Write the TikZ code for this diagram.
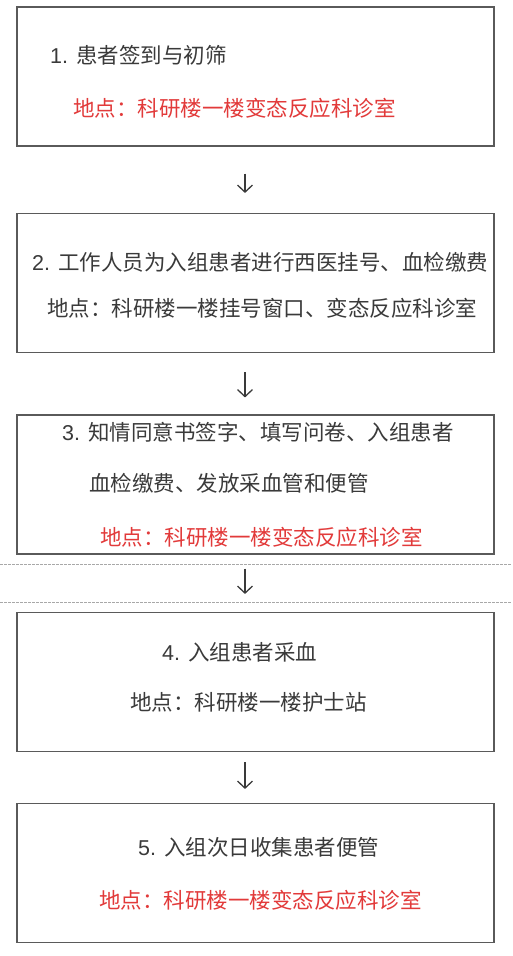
\documentclass[tikz,border=0pt]{standalone}
\usepackage{fontspec}
\setmainfont{Liberation Sans}
\newfontfamily\cjk{Noto Sans CJK SC}
\usetikzlibrary{arrows.meta}
\definecolor{txt}{HTML}{3A3A3A}
\definecolor{redt}{HTML}{E23A3A}
\definecolor{frame}{HTML}{5A5A5A}
\definecolor{dashc}{HTML}{A8A8A8}
\tikzset{
  box/.style={draw=frame, line width=1.1pt, rectangle, minimum width=477pt, minimum height=139pt, inner sep=0pt, fill=white},
  lbl/.style={anchor=west, inner sep=0pt, text=txt, font=\fontsize{21.5}{25}\selectfont},
  redlbl/.style={lbl, text=redt},
  arr/.style={draw=txt, line width=1.3pt, -{Straight Barb[length=7pt,width=15pt,line width=1.3pt]}},
  sep/.style={draw=dashc, line width=0.8pt, dash pattern=on 2.5pt off 1.5pt}
}
\begin{document}
\begin{tikzpicture}[x=1pt,y=-1pt]
\useasboundingbox (0,0) rectangle (512,956);
\coordinate (ax) at (245,0);
% dashed separators
\coordinate (s1l) at (0,564); \coordinate (s1r) at (512,564);
\coordinate (s2l) at (0,602); \coordinate (s2r) at (512,602);
\draw[sep] (s1l) -- (s1r);
\draw[sep] (s2l) -- (s2r);
% boxes
\node[box] (b1) at (255.5,76.5) {};
\node[box] (b2) at (255.5,283) {};
\node[box] (b3) at (255.5,484.5) {};
\node[box] (b4) at (255.5,682) {};
\node[box] (b5) at (255.5,873) {};
% texts
\node[lbl] (t1a) at (50,55) {1. {\cjk 患者签到与初筛}};
\node[redlbl] (t1b) at (73,108) {\cjk 地点：科研楼一楼变态反应科诊室};
\node[lbl] (t2a) at (32,262) {2. {\cjk 工作人员为入组患者进行西医挂号、血检缴费}};
\node[lbl] (t2b) at (47,308) {\cjk 地点：科研楼一楼挂号窗口、变态反应科诊室};
\node[lbl] (t3a) at (62,432) {3. {\cjk 知情同意书签字、填写问卷、入组患者}};
\node[lbl] (t3b) at (89,483) {\cjk 血检缴费、发放采血管和便管};
\node[redlbl] (t3c) at (100,537) {\cjk 地点：科研楼一楼变态反应科诊室};
\node[lbl] (t4a) at (162,652) {4. {\cjk 入组患者采血}};
\node[lbl] (t4b) at (130,702) {\cjk 地点：科研楼一楼护士站};
\node[lbl] (t5a) at (138,847) {5. {\cjk 入组次日收集患者便管}};
\node[redlbl] (t5b) at (99,900) {\cjk 地点：科研楼一楼变态反应科诊室};
% arrows
\draw[arr, shorten <=27pt, shorten >=20pt] (b1.south -| ax) -- (b2.north -| ax);
\draw[arr, shorten <=19pt, shorten >=17pt] (b2.south -| ax) -- (b3.north -| ax);
\draw[arr, shorten <=14pt, shorten >=18pt] (b3.south -| ax) -- (b4.north -| ax);
\draw[arr, shorten <=10pt, shorten >=14pt] (b4.south -| ax) -- (b5.north -| ax);
\end{tikzpicture}
\end{document}
